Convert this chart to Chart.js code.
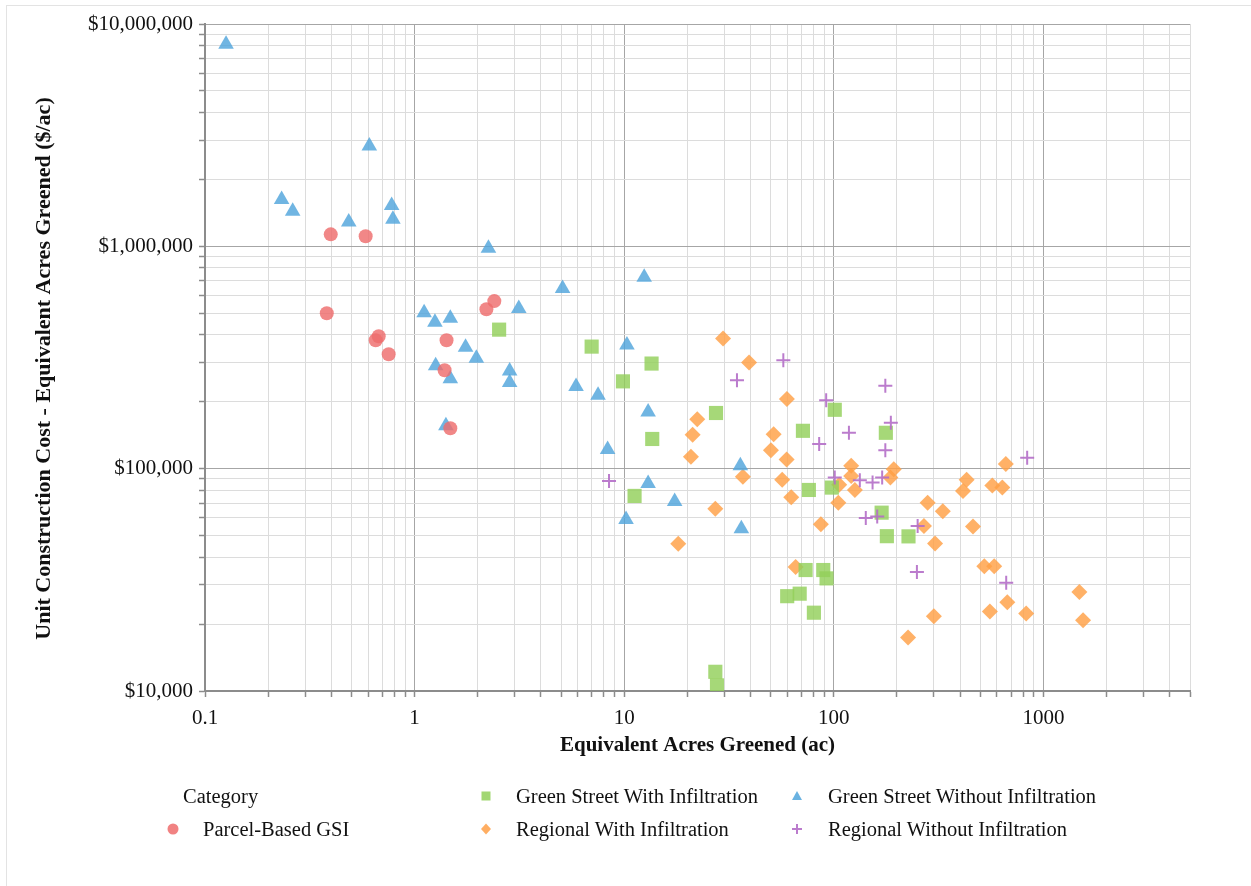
<!DOCTYPE html>
<html>
<head>
<meta charset="utf-8">
<script src="https://cdn.jsdelivr.net/npm/chart.js@4.4.1/dist/chart.umd.min.js"></script>
<style>
  html, body { margin: 0; padding: 0; background: #fff; overflow: hidden; }
  #wrap { position: relative; width: 1251px; height: 886px; }
  #frame { position: absolute; left: 6px; top: 5px; width: 1260px; height: 900px; border: 1px solid #e3e3e3; box-sizing: border-box; }
  #myChart { position: absolute; left: 0; top: 0; }
  .lg { position: absolute; font-family: "Liberation Serif", "Times New Roman", serif; font-size: 20.5px; color: #111; line-height: 24px; white-space: nowrap; }
  .mk { position: absolute; }
</style>
</head>
<body>
<div id="wrap">
  <div id="frame"></div>
  <canvas id="myChart" width="1251" height="886"></canvas>
  <div class="lg" style="left:183px; top:784px;">Category</div>

  <svg class="mk" style="left:166px; top:822px;" width="14" height="14"><circle cx="7" cy="7" r="5.5" fill="rgba(238,108,108,0.85)"/></svg>
  <div class="lg" style="left:203px; top:817px;">Parcel-Based GSI</div>

  <svg class="mk" style="left:479px; top:789px;" width="14" height="14"><rect x="2.5" y="2.5" width="9" height="9" fill="rgba(146,208,90,0.85)"/></svg>
  <div class="lg" style="left:516px; top:784px;">Green Street With Infiltration</div>

  <svg class="mk" style="left:479px; top:822px;" width="14" height="14"><polygon points="7,1.5 12,7 7,12.5 2,7" fill="rgba(255,160,70,0.85)"/></svg>
  <div class="lg" style="left:516px; top:817px;">Regional With Infiltration</div>

  <svg class="mk" style="left:790px; top:789px;" width="14" height="14"><polygon points="7,2 12,11 2,11" fill="rgba(80,165,220,0.85)"/></svg>
  <div class="lg" style="left:828px; top:784px;">Green Street Without Infiltration</div>

  <svg class="mk" style="left:790px; top:822px;" width="14" height="14"><path d="M7 2 V12 M2 7 H12" stroke="rgba(180,110,200,0.9)" stroke-width="2"/></svg>
  <div class="lg" style="left:828px; top:817px;">Regional Without Infiltration</div>
</div>

<script>
// Data diambil dari gambar: [acres greened, cost per acre]
const parcelX = [0.398, 0.584, 0.381, 0.652, 0.674, 0.752, 1.42, 1.39, 1.48, 2.20, 2.40];
const parcelY = [1132000, 1110000, 500000, 378000, 394000, 327000, 378000, 277000, 152000, 521000, 567000];

const gsWithX = [2.53, 6.99, 13.5, 9.86, 27.4, 13.6, 71.2, 101, 177, 11.2, 76.0, 97.8, 169, 179, 227, 27.2, 27.7, 73.3, 89.0, 92.3, 59.9, 68.7, 80.3];
const gsWithY = [422000, 354000, 297000, 247000, 178000, 136000, 148000, 184000, 145000, 75400, 80200, 82200, 63400, 49700, 49600, 12200, 10600, 35000, 35000, 32100, 26700, 27400, 22500];

const gsWithoutX = [0.126, 0.608, 0.232, 0.262, 0.485, 0.777, 0.788, 2.25, 5.08, 12.45, 1.11, 1.25, 1.48, 3.14, 1.75, 1.97, 1.26, 1.48, 2.84, 2.84, 5.89, 7.50, 1.41, 8.33, 10.3, 13.0, 35.8, 13.0, 17.4, 10.2, 36.2];
const gsWithoutY = [8110000, 2826000, 1626000, 1437000, 1286000, 1528000, 1323000, 980000, 646000, 726000, 503000, 456000, 475000, 525000, 352000, 314000, 290000, 254000, 275000, 244000, 234000, 214000, 156000, 122000, 360000, 180000, 103000, 85700, 71100, 59100, 53700];

const regWithX = [29.6, 39.4, 59.7, 22.3, 21.2, 51.6, 50.1, 59.5, 20.8, 36.8, 56.7, 62.6, 27.2, 86.7, 105, 106, 121, 121, 126, 193, 186, 18.1, 65.7, 661, 430, 413, 570, 636, 280, 331, 269, 461, 304, 522, 582, 1483, 672, 300, 555, 827, 1545, 226];
const regWithY = [385000, 300000, 206000, 167000, 142000, 143000, 121000, 110000, 113000, 92000, 89200, 74300, 66100, 56200, 70300, 84700, 103000, 92800, 80200, 99300, 91200, 46000, 36100, 105000, 89200, 79300, 84100, 82200, 70300, 64400, 55200, 55000, 46100, 36400, 36400, 27900, 25100, 21700, 22800, 22300, 20800, 17400];

const regWithoutX = [57.4, 34.5, 91.9, 118, 85.1, 176, 187, 176, 8.46, 101, 133, 153, 170, 142, 161, 251, 249, 836, 664];
const regWithoutY = [307000, 250000, 203000, 145000, 129000, 236000, 161000, 121000, 88100, 91200, 88700, 86600, 91200, 60000, 61000, 55200, 34300, 112000, 30700];

// Label sumbu
const xDecades = [0.1, 1, 10, 100, 1000];
const xTickLabels = ['0.1', '1', '10', '100', '1000'];
const yDecades = [10000, 100000, 1000000, 10000000];
const yTickLabels = ['$10,000', '$100,000', '$1,000,000', '$10,000,000'];

function toPoints(xs, ys) {
    return xs.map((x, i) => ({ x: x, y: ys[i] }));
}

// tick kecil 1..9 tiap dekade
function minorTicks(decades, maxValue) {
    const out = [];
    decades.forEach(d => {
        for (let m = 1; m <= 9; m++) {
            const v = Math.round(d * m * 1e6) / 1e6;
            if (v <= maxValue) out.push({ value: v, major: m === 1 });
        }
    });
    return out;
}

const serif = '"Liberation Serif", "Times New Roman", serif';
const axisGray = '#8c8c8c';

function gridColor(c) {
    return c.tick && c.tick.major ? '#a6a6a6' : '#dcdcdc';
}

const ctx = document.getElementById('myChart').getContext('2d');
const myChart = new Chart(ctx, {
    type: 'scatter',
    data: {
        datasets: [
            {
                label: 'Parcel-Based GSI',
                data: toPoints(parcelX, parcelY),
                pointStyle: 'circle',
                pointRadius: 7,
                backgroundColor: 'rgba(238,108,108,0.82)',
                borderWidth: 0,
                order: 0
            },
            {
                label: 'Green Street With Infiltration',
                data: toPoints(gsWithX, gsWithY),
                pointStyle: 'rect',
                pointRadius: 10,
                backgroundColor: 'rgba(146,208,90,0.82)',
                borderWidth: 0,
                order: 3
            },
            {
                label: 'Green Street Without Infiltration',
                data: toPoints(gsWithoutX, gsWithoutY),
                pointStyle: 'triangle',
                pointRadius: 9,
                backgroundColor: 'rgba(80,165,220,0.82)',
                borderWidth: 0,
                order: 2
            },
            {
                label: 'Regional With Infiltration',
                data: toPoints(regWithX, regWithY),
                pointStyle: 'rectRot',
                pointRadius: 8,
                backgroundColor: 'rgba(255,160,70,0.82)',
                borderWidth: 0,
                order: 4
            },
            {
                label: 'Regional Without Infiltration',
                data: toPoints(regWithoutX, regWithoutY),
                pointStyle: 'cross',
                pointRadius: 7,
                borderColor: 'rgba(180,110,200,0.9)',
                backgroundColor: 'rgba(180,110,200,0.9)',
                borderWidth: 2,
                order: 1
            }
        ]
    },
    options: {
        responsive: false,
        animation: false,
        layout: { padding: { left: 27, top: 24, right: 61, bottom: 128 } },
        plugins: {
            legend: { display: false },
            tooltip: { enabled: false }
        },
        scales: {
            x: {
                type: 'logarithmic',
                min: 0.1,
                max: 5000,
                afterBuildTicks: s => { s.ticks = minorTicks(xDecades, 5000); },
                afterFit: s => { s.height = 67; },
                ticks: {
                    autoSkip: false,
                    maxRotation: 0,
                    padding: 9,
                    color: '#111',
                    font: { family: serif, size: 21 },
                    callback: v => {
                        const i = xDecades.findIndex(d => Math.abs(d - v) < 1e-9);
                        return i >= 0 ? xTickLabels[i] : '';
                    }
                },
                grid: { color: gridColor, lineWidth: 1, tickLength: 6, tickColor: axisGray, tickWidth: 1.5 },
                border: { color: axisGray, width: 2 },
                title: {
                    display: true,
                    text: 'Equivalent Acres Greened (ac)',
                    color: '#111',
                    padding: { top: 0, bottom: 0 },
                    font: { family: serif, size: 21, weight: 'bold' }
                }
            },
            y: {
                type: 'logarithmic',
                min: 10000,
                max: 10000000,
                afterBuildTicks: s => { s.ticks = minorTicks(yDecades, 10000000); },
                afterFit: s => { s.width = 178; },
                ticks: {
                    autoSkip: false,
                    padding: 6,
                    color: '#111',
                    font: { family: serif, size: 21 },
                    callback: v => {
                        const i = yDecades.findIndex(d => Math.abs(d - v) < 1e-6);
                        return i >= 0 ? yTickLabels[i] : '';
                    }
                },
                grid: { color: gridColor, lineWidth: 1, tickLength: 6, tickColor: axisGray, tickWidth: 1.5 },
                border: { color: axisGray, width: 2 },
                title: {
                    display: true,
                    // spasi di akhir menggeser judul sedikit ke bawah
                    text: 'Unit Construction Cost - Equivalent Acres Greened ($/ac)    ',
                    color: '#111',
                    padding: { top: 4, bottom: 0 },
                    font: { family: serif, size: 22, weight: 'bold' }
                }
            }
        }
    }
});
</script>
</body>
</html>
